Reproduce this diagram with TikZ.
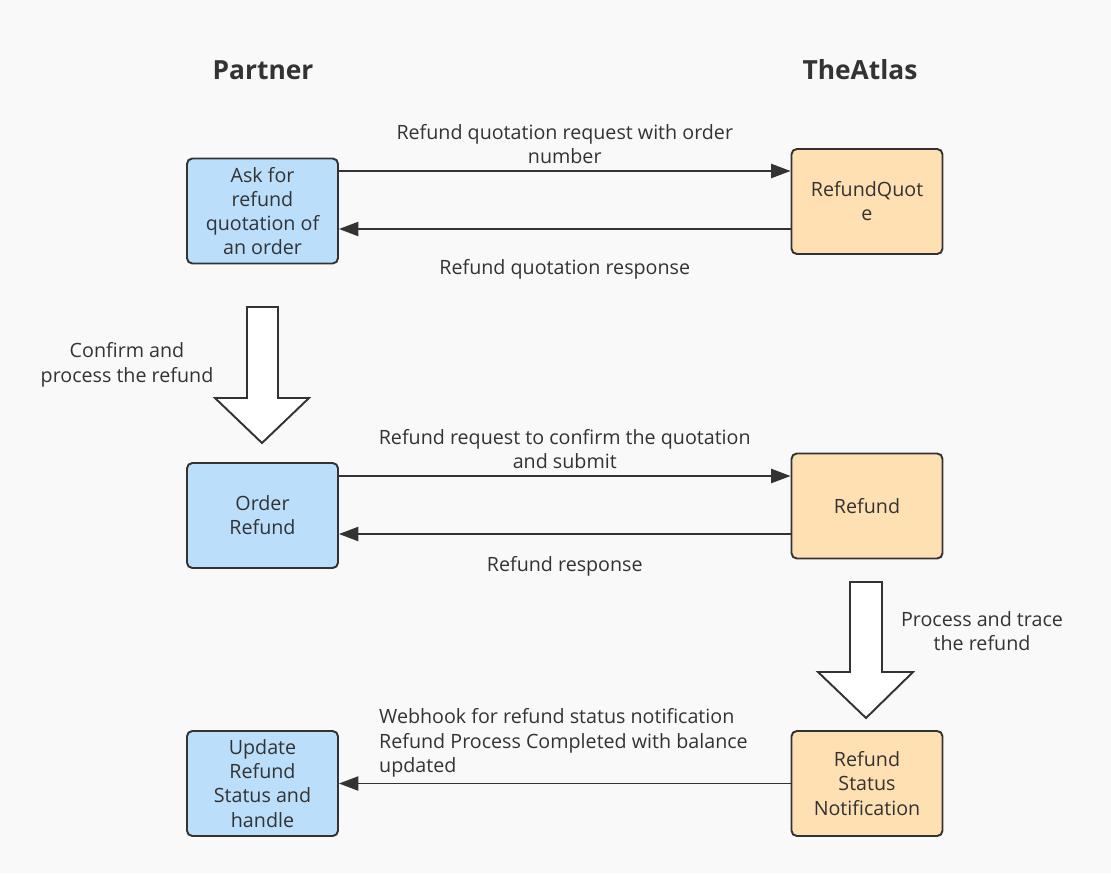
\documentclass[tikz,border=0pt]{standalone}
\usepackage{fontspec}
\setmainfont{Open Sans}
\usetikzlibrary{arrows.meta}
\definecolor{partnerblue}{HTML}{BBDEFB}
\definecolor{atlasorange}{HTML}{FFE0B2}
\definecolor{linegray}{HTML}{333333}
\definecolor{bggray}{HTML}{F9F9F9}

\begin{document}
\begin{tikzpicture}[x=0.02cm, y=-0.02cm,
  box/.style={draw=linegray, line width=1.1pt, rounded corners=3pt, minimum width=3.02cm, minimum height=2.1cm, align=center, text=linegray, font=\fontsize{11.2}{13.7}\selectfont},
  partnerbox/.style={box, fill=partnerblue},
  atlasbox/.style={box, fill=atlasorange},
  flow/.style={-{Triangle[length=11pt,width=8pt]}, line width=1.1pt, draw=linegray},
  lbl/.style={align=center, text=linegray, font=\fontsize{11.2}{14}\selectfont},
  bigarrow/.style={draw=linegray, line width=1.1pt, fill=white},
  head/.style={text=linegray, font=\fontsize{15}{18}\selectfont\bfseries}]
\fill[bggray] (0,0) rectangle (1111,873);

\node[head] (partner) at (263,70) {Partner};
\node[head] (atlas) at (860,70) {TheAtlas};

\node[partnerbox] (ask) at (262.5,211) {Ask for\\refund\\quotation of\\an order};
\node[atlasbox] (quote) at (867,201.5) {RefundQuot\\e};
\node[partnerbox] (order) at (262.5,515.5) {Order\\Refund};
\node[atlasbox] (refund) at (867,506) {Refund};
\node[partnerbox] (update) at (262.5,783.5) {Update\\Refund\\Status and\\handle};
\node[atlasbox] (notify) at (867,783.5) {Refund\\Status\\Notification};

\draw[flow] (ask.east |- 0,171) -- node[lbl, above=0pt] {Refund quotation request with order\\number} (quote.west |- 0,171);
\draw[flow] (quote.west |- 0,229) -- node[lbl, below=13.5pt] {Refund quotation response} (ask.east |- 0,229);
\draw[flow] (order.east |- 0,476) -- node[lbl, above=0pt] {Refund request to confirm the quotation\\and submit} (refund.west |- 0,476);
\draw[flow] (refund.west |- 0,534) -- node[lbl, below=9pt] {Refund response} (order.east |- 0,534);
\draw[flow] (notify.west) -- (update.east);

\node[lbl, align=left, anchor=west] (webhook) at (373,743) {Webhook for refund status notification\\Refund Process Completed with balance\\updated};

% big arrows between the steps
\draw[bigarrow] (247,307) -- (278,307) -- (278,398) -- (309,398) -- (262,443) -- (215,398) -- (247,398) -- cycle;
\node[lbl] (confirm) at (127,365) {Confirm and\\process the refund};
\draw[bigarrow] (850,582) -- (882,582) -- (882,672) -- (913,672) -- (866,718) -- (818,672) -- (850,672) -- cycle;
\node[lbl] (trace) at (982,631) {Process and trace\\the refund};
\end{tikzpicture}
\end{document}
